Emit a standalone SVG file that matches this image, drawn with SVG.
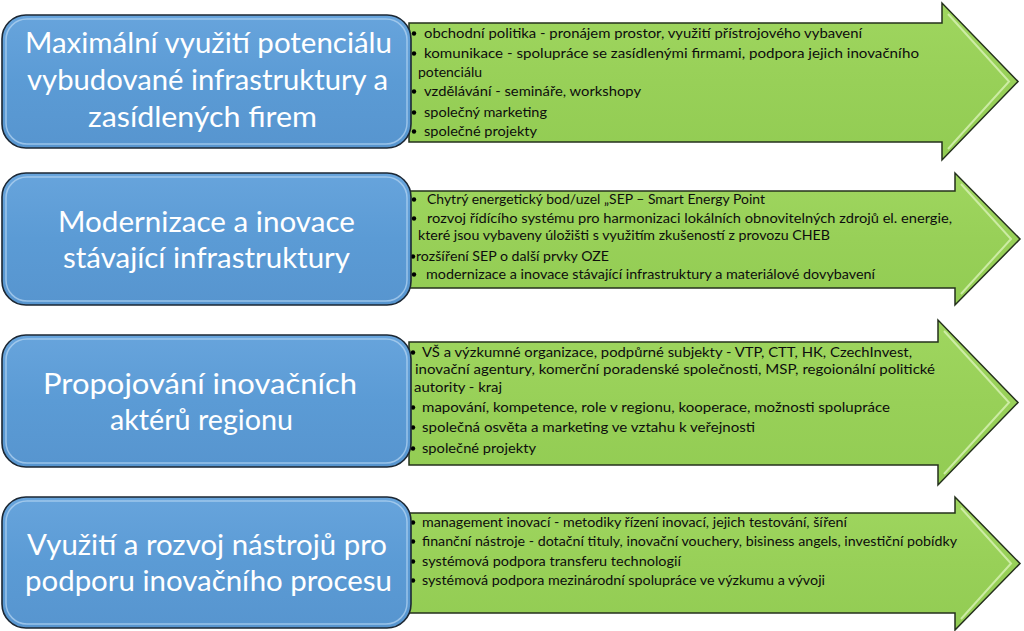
<svg xmlns="http://www.w3.org/2000/svg" width="1024" height="631" viewBox="0 0 1024 631">
<defs>
<linearGradient id="blueG" x1="0" y1="0" x2="0" y2="1">
<stop offset="0" stop-color="#67a4dc"/>
<stop offset="0.5" stop-color="#5b9bd5"/>
<stop offset="1" stop-color="#5795cf"/>
</linearGradient>
<linearGradient id="greenG" x1="0" y1="0" x2="0" y2="1">
<stop offset="0" stop-color="#9fd65f"/>
<stop offset="0.5" stop-color="#98d058"/>
<stop offset="1" stop-color="#92cc53"/>
</linearGradient>
</defs>
<style>
.box{fill:url(#blueG);stroke:#1c2733;stroke-width:1.6}
.boxhl{fill:none;stroke:#b7d6f2;stroke-width:1.5;opacity:0.7}
.arrow{fill:url(#greenG);stroke:#24301c;stroke-width:1.5}
.arrowhl{fill:none;stroke:#d9f2b6;stroke-width:2;opacity:0.8}
.title{font-family:Lato,"Open Sans",sans-serif;font-size:28px;fill:#ffffff}
.item{font-family:Lato,"Open Sans",sans-serif;font-size:14px;fill:#0d0d0d}
.bul{fill:#000}
</style>
<rect width="1024" height="631" fill="#ffffff"/>

<g id="connectors">
<g id="arrow1">
<polygon class="arrow" points="409,23 942,23 942,3 1018,81.5 942,160 942,142 409,142"/>
<polyline class="arrowhl" points="948,14 1009,81.5 948,149"/>
<g class="bul">
<circle cx="414" cy="33.5" r="2.2"/>
<circle cx="414" cy="53.5" r="2.2"/>
<circle cx="414" cy="91.5" r="2.2"/>
<circle cx="414" cy="112.5" r="2.2"/>
<circle cx="414" cy="131.5" r="2.2"/>
</g>
<g class="item">
<text x="424" y="38" textLength="438" lengthAdjust="spacingAndGlyphs">obchodní politika - pronájem prostor, využití přístrojového vybavení</text>
<text x="424" y="58" textLength="495" lengthAdjust="spacingAndGlyphs">komunikace - spolupráce se zasídlenými firmami, podpora jejich inovačního</text>
<text x="418" y="77" textLength="64" lengthAdjust="spacingAndGlyphs">potenciálu</text>
<text x="424" y="96" textLength="217" lengthAdjust="spacingAndGlyphs">vzdělávání - semináře, workshopy</text>
<text x="424" y="117" textLength="123" lengthAdjust="spacingAndGlyphs">společný marketing</text>
<text x="424" y="136" textLength="113" lengthAdjust="spacingAndGlyphs">společné projekty</text>
</g>
</g>
<g id="arrow2">
<polygon class="arrow" points="409,191 955,191 955,173 1020,239 955,305 955,288 409,288"/>
<polyline class="arrowhl" points="961,184 1011,239 961,294"/>
<g class="bul">
<circle cx="414" cy="199.5" r="2.2"/>
<circle cx="414" cy="218.5" r="2.2"/>
<circle cx="413" cy="256.5" r="2.2"/>
<circle cx="414" cy="274.5" r="2.2"/>
</g>
<g class="item">
<text x="427" y="204" textLength="338" lengthAdjust="spacingAndGlyphs">Chytrý energetický bod/uzel „SEP – Smart Energy Point</text>
<text x="427" y="223" textLength="525" lengthAdjust="spacingAndGlyphs">rozvoj řídícího systému pro harmonizaci lokálních obnovitelných zdrojů el. energie,</text>
<text x="418" y="240" textLength="412" lengthAdjust="spacingAndGlyphs">které jsou vybaveny úložišti s využitím zkušeností z provozu CHEB</text>
<text x="416" y="261" textLength="193" lengthAdjust="spacingAndGlyphs">rozšíření SEP o další prvky OZE</text>
<text x="426" y="279" textLength="449" lengthAdjust="spacingAndGlyphs">modernizace a inovace stávající infrastruktury a materiálové dovybavení</text>
</g>
</g>
<g id="arrow3">
<polygon class="arrow" points="409,342 938,342 938,320 1018,402.5 938,485 938,465 409,465"/>
<polyline class="arrowhl" points="944,331 1009,402.5 944,474"/>
<g class="bul">
<circle cx="413" cy="352.5" r="2.2"/>
<circle cx="413" cy="407.5" r="2.2"/>
<circle cx="413" cy="427.5" r="2.2"/>
<circle cx="413" cy="448.5" r="2.2"/>
</g>
<g class="item">
<text x="422" y="357" textLength="490" lengthAdjust="spacingAndGlyphs">VŠ a výzkumné organizace, podpůrné subjekty - VTP, CTT, HK, CzechInvest,</text>
<text x="415" y="374" textLength="520" lengthAdjust="spacingAndGlyphs">inovační agentury, komerční poradenské společnosti, MSP, regoionální politické</text>
<text x="414" y="392" textLength="88" lengthAdjust="spacingAndGlyphs">autority - kraj</text>
<text x="422" y="412" textLength="468" lengthAdjust="spacingAndGlyphs">mapování, kompetence, role v regionu, kooperace, možnosti spolupráce</text>
<text x="422" y="432" textLength="333" lengthAdjust="spacingAndGlyphs">společná osvěta a marketing ve vztahu k veřejnosti</text>
<text x="422" y="453" textLength="114" lengthAdjust="spacingAndGlyphs">společné projekty</text>
</g>
</g>
<g id="arrow4">
<polygon class="arrow" points="409,513 955,513 955,497 1020,563.5 955,630 955,613 409,613"/>
<polyline class="arrowhl" points="961,508 1011,563.5 961,619"/>
<g class="bul">
<circle cx="413" cy="522.5" r="2.2"/>
<circle cx="413" cy="541.5" r="2.2"/>
<circle cx="413" cy="561.5" r="2.2"/>
<circle cx="413" cy="580.5" r="2.2"/>
</g>
<g class="item">
<text x="422" y="527" textLength="425" lengthAdjust="spacingAndGlyphs">management inovací - metodiky řízení inovací, jejich testování, šíření</text>
<text x="422" y="546" textLength="535" lengthAdjust="spacingAndGlyphs">finanční nástroje - dotační tituly, inovační vouchery, bisiness angels, investiční pobídky</text>
<text x="422" y="566" textLength="259" lengthAdjust="spacingAndGlyphs">systémová podpora transferu technologií</text>
<text x="422" y="585" textLength="403" lengthAdjust="spacingAndGlyphs">systémová podpora mezinárodní spolupráce ve výzkumu a vývoji</text>
</g>
</g>
</g>

<g id="node1">
<rect class="box" x="2" y="15" width="409" height="133" rx="24"/>
<rect class="boxhl" x="6" y="19" width="401" height="125" rx="21"/>
<text class="title" x="25" y="53" textLength="367" lengthAdjust="spacingAndGlyphs">Maximální využití potenciálu</text>
<text class="title" x="27" y="90" textLength="361" lengthAdjust="spacingAndGlyphs">vybudované infrastruktury a</text>
<text class="title" x="88" y="127" textLength="229" lengthAdjust="spacingAndGlyphs">zasídlených firem</text>
</g>
<g id="node2">
<rect class="box" x="2" y="173" width="409" height="132" rx="24"/>
<rect class="boxhl" x="6" y="177" width="401" height="124" rx="21"/>
<text class="title" x="58" y="232" textLength="297" lengthAdjust="spacingAndGlyphs">Modernizace a inovace</text>
<text class="title" x="63" y="268" textLength="287" lengthAdjust="spacingAndGlyphs">stávající infrastruktury</text>
</g>
<g id="node3">
<rect class="box" x="2" y="335" width="409" height="132" rx="24"/>
<rect class="boxhl" x="6" y="339" width="401" height="124" rx="21"/>
<text class="title" x="43" y="394" textLength="314" lengthAdjust="spacingAndGlyphs">Propojování inovačních</text>
<text class="title" x="110" y="430" textLength="183" lengthAdjust="spacingAndGlyphs">aktérů regionu</text>
</g>
<g id="node4">
<rect class="box" x="2" y="497" width="409" height="131" rx="24"/>
<rect class="boxhl" x="6" y="501" width="401" height="123" rx="21"/>
<text class="title" x="27" y="555" textLength="360" lengthAdjust="spacingAndGlyphs">Využití a rozvoj nástrojů pro</text>
<text class="title" x="25" y="591" textLength="367" lengthAdjust="spacingAndGlyphs">podporu inovačního procesu</text>
</g>
</svg>
